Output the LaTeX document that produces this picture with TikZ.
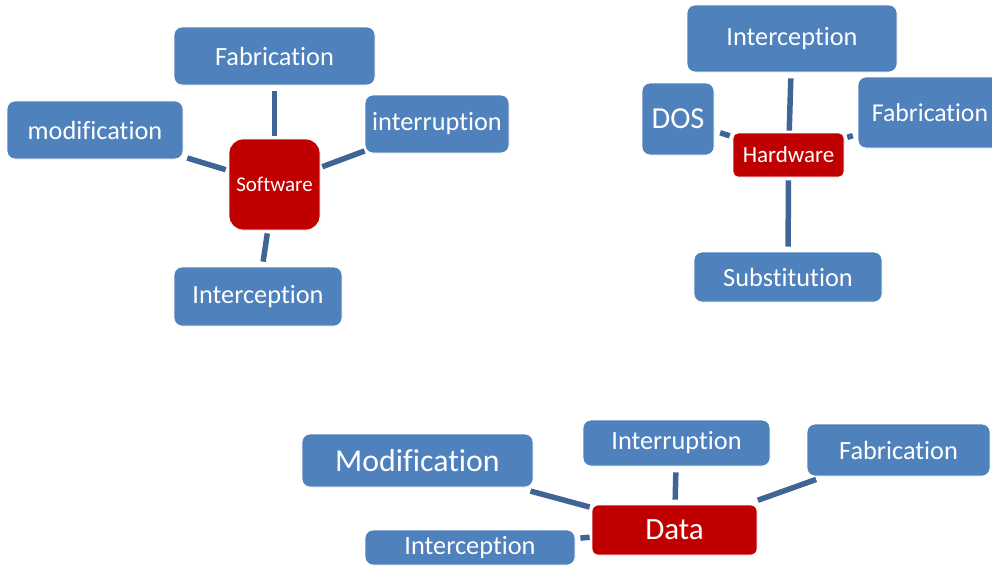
\documentclass[tikz,border=0pt]{standalone}
\usepackage{fontspec}
\setmainfont{Carlito}[RawFeature={-liga;-clig;-calt;-dlig}]
\definecolor{boxblue}{HTML}{4F81BD}
\definecolor{boxred}{HTML}{C00000}
\definecolor{linkblue}{HTML}{3E6596}
\tikzset{
  leaf/.style={draw=white, line width=0.8pt, fill=boxblue, text=white,
    rounded corners=8pt, inner sep=0pt, font=\fontsize{26.3}{30}\selectfont},
  hub/.style={draw=white, line width=0.8pt, fill=boxred, text=white,
    inner sep=0pt},
  boxsize/.style 2 args={minimum width=#1pt, minimum height=#2pt},
  link/.style={draw=linkblue, line width=5.5pt}
}
\begin{document}
\begin{tikzpicture}[x=1pt, y=-1pt]
\useasboundingbox (0,0) rectangle (992,566);

% --- Software cluster ---
\node[hub, rounded corners=14pt, boxsize={91}{91}, font=\fontsize{21}{24}\selectfont]
  (sw) at (274.5,184.5) {Software};
\node[leaf, boxsize={201}{58}] (swfab) at (274.5,56) {Fabrication};
\node[leaf, boxsize={176}{58}] (swmod) at (95,130) {modification};
\node[leaf, boxsize={144}{58}] (swint) at (437,124) {interruption};
\node[leaf, boxsize={168}{59}] (swicp) at (258,296.5) {Interception};

\draw[link, shorten <=6pt, shorten >=3pt] (swfab) -- (sw);
\draw[link, shorten <=4pt, shorten >=3pt] (swmod) -- (sw);
\draw[link, shorten <=0pt, shorten >=2pt] (swint) -- (sw);
\draw[link, shorten <=5pt, shorten >=3pt] (swicp) -- (sw);

% --- Hardware cluster ---
\node[hub, rounded corners=5pt, boxsize={111}{44}, font=\fontsize{23}{26}\selectfont]
  (hw) at (788.5,155) {Hardware};
\node[leaf, boxsize={210}{67}] (hwicp) at (792,38.5) {Interception};
\node[leaf, boxsize={72}{72}, font=\fontsize{30.5}{34}\selectfont] (hwdos) at (678,119) {DOS};
\node[leaf, boxsize={144}{71}, font=\fontsize{25.7}{30}\selectfont] (hwfab) at (930,112.5) {Fabrication};
\node[leaf, boxsize={188}{50}] (hwsub) at (788,277) {Substitution};

\draw[link, shorten <=6pt, shorten >=2pt] (hwicp) -- (hw);
\draw[link, shorten <=6pt, shorten >=3pt] (hwdos) -- (hw);
\draw[link, shorten <=5pt, shorten >=3pt] (hwfab) -- (hw);
\draw[link, shorten <=5pt, shorten >=3pt] (hwsub) -- (hw);

% --- Data cluster ---
\node[hub, rounded corners=6pt, boxsize={165}{50}, font=\fontsize{31}{34}\selectfont]
  (data) at (674.5,530) {Data};
\node[leaf, boxsize={231}{53}, font=\fontsize{31.8}{36}\selectfont] (dmod) at (417.5,460.5) {Modification};
\node[leaf, boxsize={187}{46}] (dint) at (676.5,443) {Interruption};
\node[leaf, boxsize={183}{52}] (dfab) at (898.5,450) {Fabrication};
\node[leaf, boxsize={210}{35}] (dicp) at (470,547.5) {Interception};

\draw[link, shorten <=14pt, shorten >=2pt] (dmod) -- (data);
\draw[link, shorten <=6pt, shorten >=5pt] (dint) -- (data);
\draw[link, shorten <=9pt, shorten >=13pt] (dfab) -- (data);
\draw[link, shorten <=5pt, shorten >=2pt] (dicp) -- (data);
\end{tikzpicture}
\end{document}
